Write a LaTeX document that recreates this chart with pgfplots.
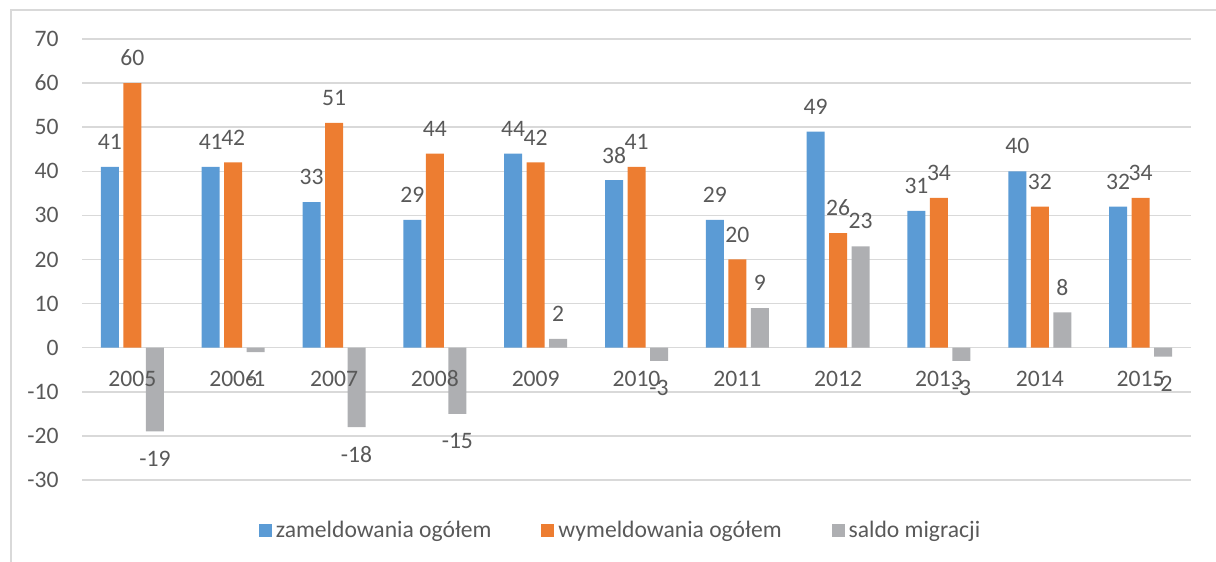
\documentclass[border=0pt]{standalone}
\usepackage{pgfplots}
\pgfplotsset{compat=1.18}
\usepackage{fontspec}
\setmainfont{Carlito}
\definecolor{cblue}{HTML}{5B9BD5}
\definecolor{corange}{HTML}{ED7D31}
\definecolor{cgray}{HTML}{AEAFB2}
\definecolor{ctext}{HTML}{595959}
\definecolor{cgrid}{HTML}{D9D9D9}
\newcommand{\cf}{\fontsize{11.8bp}{14bp}\selectfont}
\begin{document}
\begin{tikzpicture}
\path[use as bounding box] (-41bp,-41bp) rectangle (567bp,240bp);
\draw[cgrid, line width=0.75bp] (-35.5bp,-41bp) -- (-35.5bp,235bp) -- (567bp,235bp);
\begin{axis}[
  at={(0,0)}, anchor=south west,
  scale only axis, width=554.5bp, height=220.5bp,
  ybar=2.25bp, bar width=9bp,
  xmin=-0.5, xmax=10.5, ymin=-30, ymax=70,
  ytick={-30,-20,...,70},
  xtick=\empty,
  axis line style={draw=none},
  major tick length=0pt,
  ymajorgrids, grid style={cgrid, line width=0.75bp},
  font=\cf,
  tick label style={text=ctext, font=\cf},
  /pgf/number format/assume math mode=true,
  yticklabel style={anchor=east, inner sep=0pt, xshift=-11.5bp},
  nodes near coords,
  nodes near coords align={anchor=center},
  visualization depends on=rawy\as\rawy,
  every node near coord/.append style={anchor=center, inner sep=0pt, text=ctext,
     font=\cf,
     yshift={ifthenelse(\rawy<0,-13.5bp,12.5bp)}},
  legend columns=3,
  legend style={draw=none, fill=none, at={(0.4865,-0.1156)}, anchor=center,
     text=ctext, font=\cf, nodes={inner xsep=2bp},
     /tikz/every even column/.append style={column sep=23bp}},
  legend image code/.code={\fill[#1] (0bp,-3.25bp) rectangle (6.5bp,3.25bp);},
]
\addplot[fill=cblue, draw=none] coordinates {(0,41) (1,41) (2,33) (3,29) (4,44) (5,38) (6,29) (7,49) (8,31) (9,40) (10,32)};
\addplot[fill=corange, draw=none] coordinates {(0,60) (1,42) (2,51) (3,44) (4,42) (5,41) (6,20) (7,26) (8,34) (9,32) (10,34)};
\addplot[fill=cgray, draw=none] coordinates {(0,-19) (1,-1) (2,-18) (3,-15) (4,2) (5,-3) (6,9) (7,23) (8,-3) (9,8) (10,-2)};
\legend{zameldowania ogółem, wymeldowania ogółem, saldo migracji}
\foreach \yr [count=\i from 0] in {2005,2006,2007,2008,2009,2010,2011,2012,2013,2014,2015} {
  \edef\tmp{\noexpand\node[anchor=center, inner sep=0pt, text=ctext, font=\noexpand\cf, yshift=-15.5bp] at (axis cs:\i,0) {\yr};}
  \tmp
}
\end{axis}
\end{tikzpicture}
\end{document}
